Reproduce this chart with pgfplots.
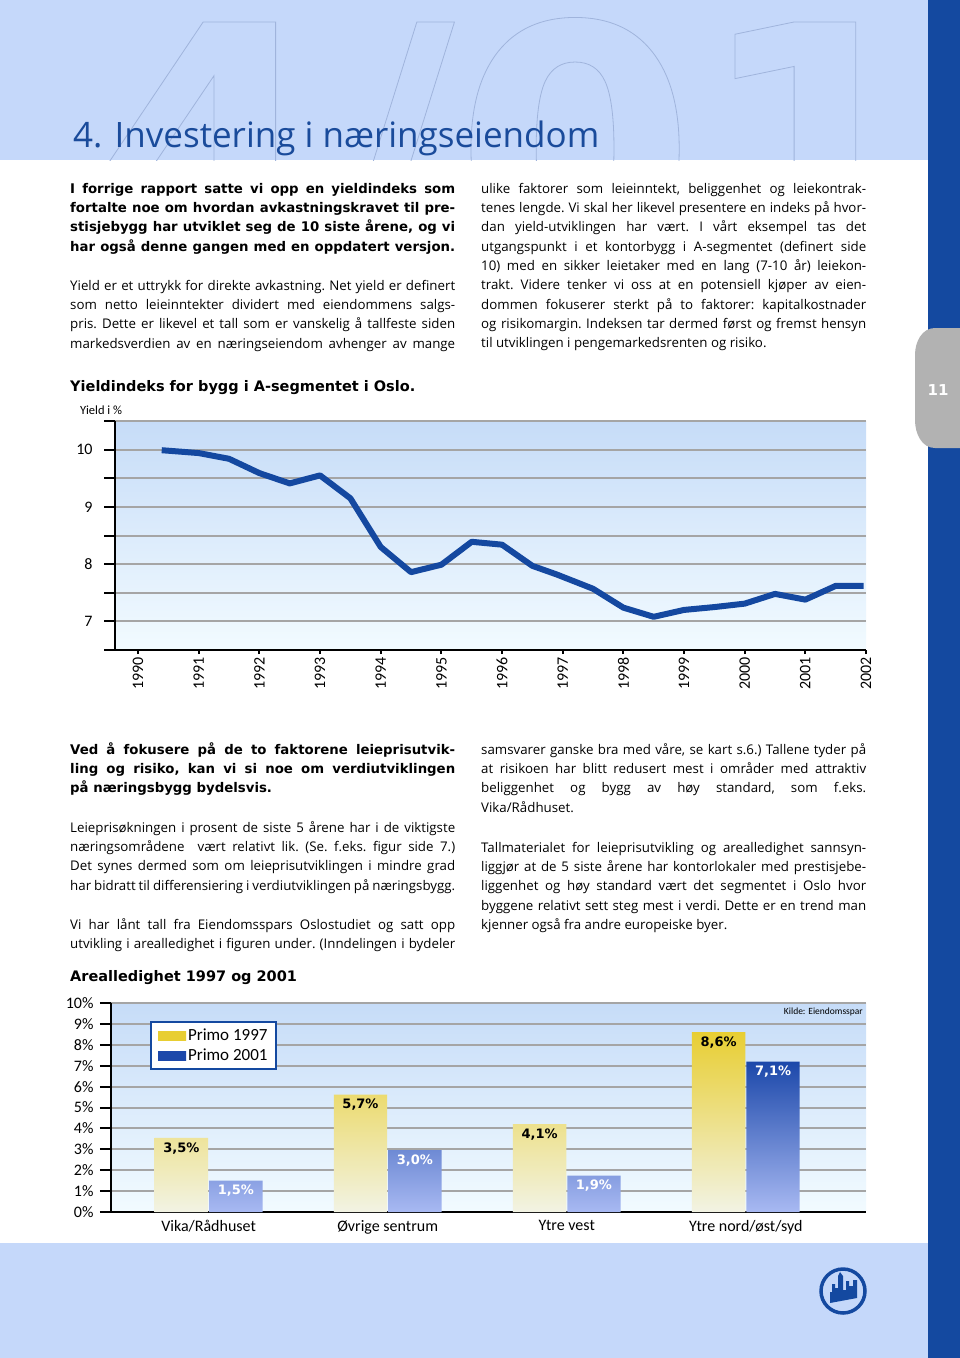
\documentclass[border=0pt]{standalone}
\usepackage{fontspec}
\setmainfont{Carlito}
\newfontfamily\osans{Open Sans}
\newfontfamily\dvs{DejaVu Sans}
\usepackage{graphicx}
\usepackage{pgfplots}
\pgfplotsset{compat=1.18}

\definecolor{bandblue}{RGB}{197,216,250}
\definecolor{darkblue}{RGB}{20,73,160}
\definecolor{titleblue}{RGB}{26,75,155}
\definecolor{tabgray}{RGB}{178,178,178}
\definecolor{gridgray}{RGB}{165,165,165}
\definecolor{bgtop}{RGB}{198,220,248}
\definecolor{bgbot}{RGB}{242,251,255}
\definecolor{lineblue}{RGB}{20,72,160}
\definecolor{ytop}{RGB}{232,206,50}
\definecolor{ybot}{RGB}{242,243,228}
\definecolor{btop}{RGB}{28,72,170}
\definecolor{bbot}{RGB}{168,185,242}
\definecolor{outl}{RGB}{160,180,220}

\newlength\colw \setlength\colw{385pt}
\newsavebox\lbox
\newcommand\J[1]{\sbox\lbox{#1}\ifdim\wd\lbox>1.015\colw\hbox to\colw{\resizebox{\colw}{\height}{\usebox\lbox}}\else\hbox to\colw{#1}\fi}
\newcommand\E[1]{\hbox{#1}}
\newcommand\bodyf{\osans\fontsize{13.3pt}{19.37pt}\selectfont\frenchspacing}
\newcommand\leadf{\dvs\bfseries\fontsize{13.3pt}{19.37pt}\selectfont\frenchspacing}
\newcommand\tickf{\fontsize{16pt}{18pt}\selectfont}

\begin{document}
\begin{tikzpicture}[x=1pt,y=1pt]
\path[use as bounding box] (0,0) rectangle (960,-1358);
\fill[white] (0,0) rectangle (960,-1358);
% bands
\fill[bandblue] (0,0) rectangle (928,-160);
\fill[bandblue] (0,-1243) rectangle (928,-1358);
\fill[darkblue] (928,0) rectangle (960,-1358);
\fill[tabgray] (960,-328) -- (935,-328) to[out=180,in=90] (915,-355) -- (915,-420) to[out=-90,in=180] (935,-448) -- (960,-448) -- cycle;
\node[text=white, font=\dvs\bfseries\fontsize{15pt}{18pt}\selectfont, inner sep=0] at (938,-390) {11};
% big outline numbers
\begin{scope}
\clip (0,0) rectangle (928,-160);
\node[anchor=base west, inner sep=0, text=outl] at (86,-275) {\dvs\bfseries\fontsize{347pt}{347pt}\selectfont\special{pdf:literal direct 1 Tr 0.8 w}4/01\special{pdf:literal direct 0 Tr}};
\end{scope}
% title
\node[anchor=base west, inner sep=0, text=titleblue] at (73,-147) {\osans\fontsize{35pt}{38pt}\selectfont 4. Investering i næringseiendom};

% text block 1
\node[anchor=base west, inner sep=0] at (70,-193) {\vtop{\leadf
\J{I forrige rapport satte vi opp en yieldindeks som}
\J{fortalte noe om hvordan avkastningskravet til pre-}
\J{stisjebygg har utviklet seg de 10 siste årene, og vi}
\J{har også denne gangen med en oppdatert versjon.}}};
\node[anchor=base west, inner sep=0] at (70,-290) {\vtop{\bodyf
\J{Yield er et uttrykk for direkte avkastning. Net yield er definert}
\J{som netto leieinntekter dividert med eiendommens salgs-}
\J{pris. Dette er likevel et tall som er vanskelig å tallfeste siden}
\J{markedsverdien av en næringseiendom avhenger av mange}}};
\node[anchor=base west, inner sep=0] at (481,-193) {\vtop{\bodyf
\J{ulike faktorer som leieinntekt, beliggenhet og leiekontrak-}
\J{tenes lengde. Vi skal her likevel presentere en indeks på hvor-}
\J{dan yield-utviklingen har vært. I vårt eksempel tas det}
\J{utgangspunkt i et kontorbygg i A-segmentet (definert side}
\J{10) med en sikker leietaker med en lang (7-10 år) leiekon-}
\J{trakt. Videre tenker vi oss at en potensiell kjøper av eien-}
\J{dommen fokuserer sterkt på to faktorer: kapitalkostnader}
\J{og risikomargin. Indeksen tar dermed først og fremst hensyn}
\E{til utviklingen i pengemarkedsrenten og risiko.}}};

% chart 1 title
\node[anchor=base west, inner sep=0] at (70,-391) {\dvs\bfseries\fontsize{14.5pt}{16pt}\selectfont Yieldindeks for bygg i A-segmentet i Oslo.};
\node[anchor=base west, inner sep=0] at (80,-414) {\fontsize{12.5pt}{14pt}\selectfont Yield i \%};

\begin{axis}[
  at={(115pt,-650pt)}, anchor=south west,
  width=751pt, height=229pt, scale only axis,
  xmin=1989.62, xmax=2002, ymin=6.5, ymax=10.5,
  axis x line*=bottom, axis y line*=left,
  axis line style={-, line width=2pt, black},
  axis background/.style={top color=bgtop, bottom color=bgbot},
  ytick={6.5,7,7.5,8,8.5,9,9.5,10,10.5},
  yticklabels={{},7,{},8,{},9,{},10,{}},
  xtick={1990,1991,1992,1993,1994,1995,1996,1997,1998,1999,2000,2001,2002},
  xticklabels={1990,1991,1992,1993,1994,1995,1996,1997,1998,1999,2000,2001,2002},
  minor xtick={1990,1991,1992,1993,1994,1995,1996,1997,1998,1999,2000,2001,2002},
  tick align=outside,
  major tick length=11pt, minor tick length=4pt,
  tick style={black, line width=2pt},
  major x tick style={draw=none},
  ymajorgrids, grid style={gridgray, line width=2pt},
  yticklabel style={font=\tickf, xshift=-8pt},
  xticklabel style={font=\tickf, rotate=90, anchor=east},
  xticklabel shift=-7pt,
  clip=false,
]
\addplot[lineblue, line width=6pt, line join=round] coordinates {
(1990.39,9.99)(1991.0,9.94)(1991.5,9.84)(1992.0,9.59)(1992.5,9.41)(1993.0,9.55)
(1993.5,9.15)(1994.0,8.30)(1994.5,7.86)(1995.0,7.99)(1995.5,8.39)(1996.0,8.34)
(1996.5,7.97)(1996.9,7.82)(1997.5,7.57)(1998.0,7.24)(1998.5,7.08)(1999.0,7.20)
(1999.5,7.25)(2000.0,7.31)(2000.5,7.48)(2001.0,7.38)(2001.5,7.62)(2001.96,7.62)};
\end{axis}

% text block 2
\node[anchor=base west, inner sep=0] at (70,-754) {\vtop{\leadf
\J{Ved å fokusere på de to faktorene leieprisutvik-}
\J{ling og risiko, kan vi si noe om verdiutviklingen}
\E{på næringsbygg bydelsvis.}}};
\node[anchor=base west, inner sep=0] at (70,-832) {\vtop{\bodyf
\J{Leieprisøkningen i prosent de siste 5 årene har i de viktigste}
\J{næringsområdene \ vært relativt lik. (Se. f.eks. figur side 7.)}
\J{Det synes dermed som om leieprisutviklingen i mindre grad}
\J{har bidratt til differensiering i verdiutviklingen på næringsbygg.}}};
\node[anchor=base west, inner sep=0] at (70,-929) {\vtop{\bodyf
\J{Vi har lånt tall fra Eiendomsspars Oslostudiet og satt opp}
\J{utvikling i arealledighet i figuren under. (Inndelingen i bydeler}}};
\node[anchor=base west, inner sep=0] at (481,-754) {\vtop{\bodyf
\J{samsvarer ganske bra med våre, se kart s.6.) Tallene tyder på}
\J{at risikoen har blitt redusert mest i områder med attraktiv}
\J{beliggenhet og bygg av høy standard, som f.eks.}
\E{Vika/Rådhuset.}}};
\node[anchor=base west, inner sep=0] at (481,-852) {\vtop{\bodyf
\J{Tallmaterialet for leieprisutvikling og arealledighet sannsyn-}
\J{liggjør at de 5 siste årene har kontorlokaler med prestisjebe-}
\J{liggenhet og høy standard vært det segmentet i Oslo hvor}
\J{byggene relativt sett steg mest i verdi. Dette er en trend man}
\E{kjenner også fra andre europeiske byer.}}};

% chart 2 title
\node[anchor=base west, inner sep=0] at (70,-981) {\dvs\bfseries\fontsize{14.5pt}{16pt}\selectfont Arealledighet 1997 og 2001};

\begin{axis}[
  at={(111pt,-1212pt)}, anchor=south west,
  width=755pt, height=209pt, scale only axis,
  xmin=-0.545, xmax=3.671, ymin=0, ymax=10,
  ybar=1pt, bar width=53.4pt,
  axis x line*=bottom, axis y line*=left,
  axis line style={-, line width=2pt, black},
  axis background/.style={top color=bgtop, bottom color=bgbot},
  ytick={0,1,2,3,4,5,6,7,8,9,10},
  yticklabels={0\%,1\%,2\%,3\%,4\%,5\%,6\%,7\%,8\%,9\%,10\%},
  xtick={0,1,2,3},
  xticklabels={Vika/Rådhuset,Øvrige sentrum,Ytre vest,Ytre nord/øst/syd},
  tick align=outside, major tick length=11pt,
  tick style={black, line width=2pt},
  major x tick style={draw=none},
  ymajorgrids, grid style={gridgray, line width=2pt},
  yticklabel style={font=\tickf, xshift=-3pt},
  xticklabel style={font=\tickf},
  xticklabel shift=-6pt,
  legend style={at={(axis description cs:0.0517,0.914)}, anchor=north west,
    draw=darkblue, line width=2pt, fill=white, font=\fontsize{17pt}{19pt}\selectfont,
    inner xsep=7pt, inner ysep=5pt, row sep=3pt},
  legend cell align=left,
  clip=false,
]
\addplot[draw=none, top color=ytop, bottom color=ybot,
  nodes near coords, point meta=explicit symbolic,
  every node near coord/.append style={font=\dvs\bfseries\fontsize{13pt}{15pt}\selectfont, text=black, anchor=north, yshift=-1pt},
  legend image code/.code={\path[top color=ytop, bottom color=ytop, draw=none] (0pt,-4.5pt) rectangle (28pt,4.5pt);}]
  coordinates {(0,3.55) [{3,5\%}] (1,5.62) [{5,7\%}] (2,4.2) [{4,1\%}] (3,8.61) [{8,6\%}]};
\addplot[draw=none, top color=btop, bottom color=bbot,
  nodes near coords, point meta=explicit symbolic,
  every node near coord/.append style={font=\dvs\bfseries\fontsize{13pt}{15pt}\selectfont, text=white, anchor=north, yshift=-1pt},
  legend image code/.code={\path[top color=btop, bottom color=btop, draw=none] (0pt,-4.5pt) rectangle (28pt,4.5pt);}]
  coordinates {(0,1.50) [{1,5\%}] (1,2.96) [{3,0\%}] (2,1.74) [{1,9\%}] (3,7.2) [{7,1\%}]};
\legend{Primo 1997,Primo 2001}
\end{axis}
\node[anchor=east, inner sep=0] at (863,-1012) {\fontsize{9.5pt}{11pt}\selectfont Kilde: Eiendomsspar};

% logo
\draw[darkblue, line width=3.5pt] (843,-1291) circle (22);
\fill[darkblue] (830,-1303) -- (857,-1298) -- (857,-1280) -- (853,-1280) -- (853,-1286) -- (849,-1286) -- (849,-1281) -- (846,-1281) -- (846,-1290) -- (843,-1290) -- (843,-1276) -- (840,-1272) -- (838,-1276) -- (838,-1288) -- (835,-1288) -- (835,-1284) -- (832,-1284) -- (832,-1292) -- (830,-1292) -- cycle;
\end{tikzpicture}
\end{document}
